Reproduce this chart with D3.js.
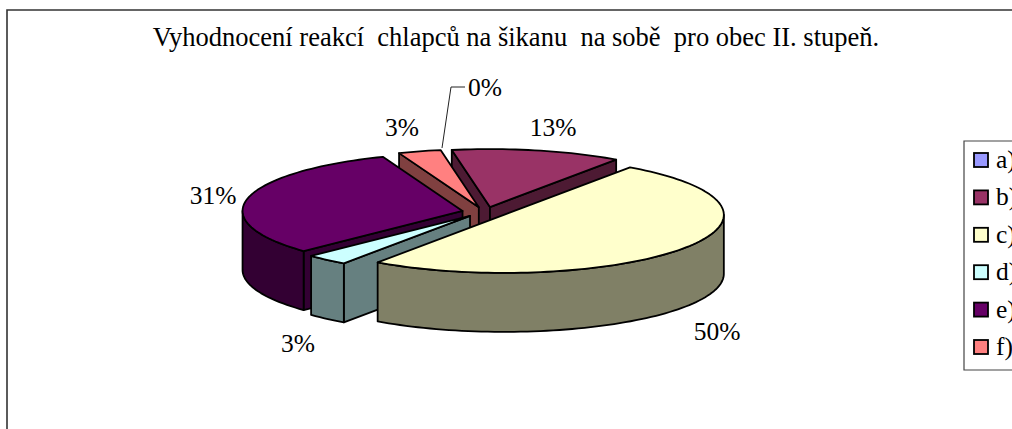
<!DOCTYPE html>
<html><head><meta charset="utf-8">
<script src="https://cdn.jsdelivr.net/npm/d3@7/dist/d3.min.js"></script>
<style>html,body{margin:0;padding:0;background:#fff;overflow:hidden}svg{display:block}text{font-family:"Liberation Serif",serif;fill:#000;white-space:pre}</style>
</head><body><svg id="c" width="1012" height="429"></svg>
<script>
const titleText = "Vyhodnocení reakcí  chlapců na šikanu  na sobě  pro obec II. stupeň.";
const categories = ["a)","b)","c)","d)","e)","f)"];
const shares = [0,12.5,50,3.125,31.25,3.125];
const topColors = ["#9999ff","#993366","#ffffcc","#ccffff","#660066","#ff8080"];
const sideColors = ["#4d4d80","#4d1a33","#808066","#668080","#330033","#804040"];
const paintOrder = [1,5,4,3,2];
const labelAnchors = [[485,87],[553,127],[717,331],[298,343],[213,195],[402,127]];

const svg = d3.select("#c");
const W=1012,H=429;
const cx=485,cy=212,depth=59,explodeX=23,explodeY=5;
const x=d3.scaleLinear([-1,1],[-220,220]);
const y=d3.scaleLinear([-1,1],[-58,58]);
const line=d3.line().curve(d3.curveLinear);
const pie=d3.pie().sort(null).startAngle(-10*Math.PI/180).endAngle(350*Math.PI/180);
const arcs=pie(shares);

svg.append("path").attr("d",`M7,${H}V10H${W}`).attr("fill","none").attr("stroke","#333").attr("stroke-width",1.6);
svg.append("text").attr("x",516).attr("y",46).attr("text-anchor","middle").attr("font-size",26.5).text(titleText);

function styled(sel,fill){return sel.attr("fill",fill).attr("stroke","#000").attr("stroke-width",1.8).attr("stroke-linejoin","round");}

paintOrder.forEach(i=>{
  const a=arcs[i], mid=(a.startAngle+a.endAngle)/2;
  const ox=cx+Math.sin(mid)*explodeX, oy=cy-Math.cos(mid)*explodeY;
  const pt=t=>[ox+x(Math.sin(t)),oy+y(-Math.cos(t))];
  const sweep=(t0,t1)=>{
    const n=Math.max(6,Math.ceil((t1-t0)/0.03));
    return d3.range(n+1).map(k=>pt(t0+(t1-t0)*k/n));
  };
  const down=p=>[p[0],p[1]+depth];
  const apex=[ox,oy], g=svg.append("g");
  const radial=p=>styled(g.append("path"),sideColors[i]).attr("d",line([apex,p,down(p),down(apex)])+"Z");
  if(Math.sin(a.startAngle)<0) radial(pt(a.startAngle));
  if(Math.sin(a.endAngle)>0) radial(pt(a.endAngle));
  const f0=Math.max(a.startAngle,Math.PI/2), f1=Math.min(a.endAngle,3*Math.PI/2);
  if(f1>f0){
    const front=sweep(f0,f1);
    styled(g.append("path"),sideColors[i]).attr("d",line(front.concat(front.map(down).reverse()))+"Z");
  }
  styled(g.append("path"),topColors[i]).attr("d",line([apex].concat(sweep(a.startAngle,a.endAngle)))+"Z");
});

svg.append("path").attr("d",line([[442,148],[451,87],[465,87]])).attr("fill","none").attr("stroke","#222").attr("stroke-width",1);

svg.append("g").selectAll("text").data(shares).join("text")
  .attr("x",(d,i)=>labelAnchors[i][0]).attr("y",(d,i)=>labelAnchors[i][1]+9)
  .attr("text-anchor","middle").attr("font-size",25.5)
  .text(d=>Math.round(d)+"%");

svg.append("path").attr("d",`M${W},141H964V370H${W}`).attr("fill","#fff").attr("stroke","#444").attr("stroke-width",1.2);
const ly=d3.scalePoint().domain(categories).range([160,347]);
const lg=svg.append("g").selectAll("g").data(categories).join("g").attr("transform",d=>`translate(0,${ly(d)})`);
lg.append("rect").attr("x",974).attr("y",-7).attr("width",14).attr("height",14).attr("fill",(d,i)=>topColors[i]).attr("stroke","#000").attr("stroke-width",1.8);
lg.append("text").attr("x",996).attr("y",8).attr("font-size",25.5).text(d=>d);
</script></body></html>
